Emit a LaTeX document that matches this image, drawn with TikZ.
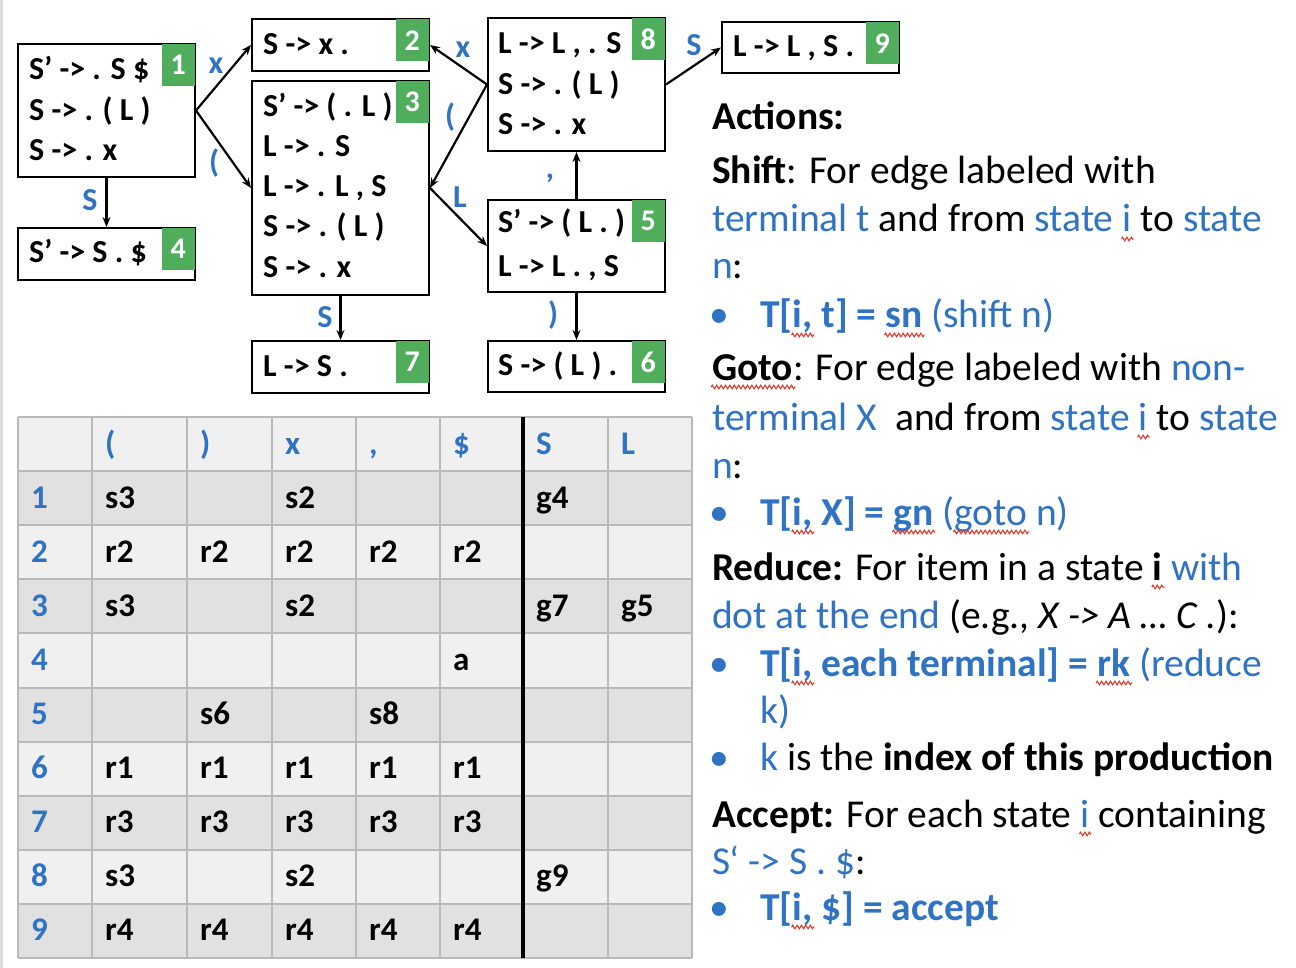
\documentclass[tikz,border=0pt]{standalone}
\usepackage{fontspec}
\setmainfont{Carlito}
\usetikzlibrary{arrows.meta,decorations.pathmorphing}
\definecolor{tblue}{HTML}{2F73C2}
\definecolor{tgreen}{HTML}{4FAD5B}
\definecolor{rowA}{HTML}{F0F0F0}
\definecolor{rowB}{HTML}{E1E1E1}
\definecolor{gridc}{HTML}{B9B9B9}
\definecolor{squig}{HTML}{E03C31}
\definecolor{edgegray}{HTML}{DCDCDC}
\newcommand{\sq}[1]{\tikz[baseline=(q.base)]{\node[inner sep=0pt,outer sep=0pt,anchor=base](q){#1};\draw[overlay,squig,line width=1.1pt,decorate,decoration={zigzag,amplitude=1.8pt,segment length=4.4pt}]([yshift=-7pt,xshift=-1pt]q.base west)--([yshift=-7pt,xshift=2pt]q.base east);}}
\newcommand{\B}{\color{tblue}}
\tikzset{
  statebox/.style={draw=black, line width=2pt, fill=white, inner sep=0pt, minimum width=177pt},
  tag/.style={fill=tgreen, text=white, inner sep=0pt, minimum width=33pt, minimum height=42pt, anchor=north east, font=\fontsize{30}{30}\selectfont\bfseries},
  item/.style={anchor=base west, inner sep=0pt, font=\fontsize{32}{32}\selectfont\bfseries},
  elabel/.style={inner sep=0pt, text=tblue, font=\fontsize{32}{32}\selectfont\bfseries},
  conn/.style={line width=2.2pt, -{Stealth[length=10pt,width=8pt]}},
  ln/.style={anchor=base west, inner sep=0pt, font=\fontsize{39.5}{40}\selectfont},
  cellt/.style={anchor=base west, inner sep=0pt, font=\fontsize{33}{33}\selectfont\bfseries},
}
\begin{document}
\begin{tikzpicture}[x=1pt,y=-1pt]
\useasboundingbox (0,0) rectangle (1296,968);
\fill[edgegray] (0,0) rectangle (3,968);

% ---------- states ----------
\node[statebox, minimum height=133pt] (s1) at (106.5,110.5) {};
\node[statebox, minimum height=52pt] (s4) at (106.5,254) {};
\node[statebox, minimum height=52pt] (s2) at (340.5,45) {};
\node[statebox, minimum height=214pt] (s3) at (340.5,188) {};
\node[statebox, minimum height=52pt] (s7) at (340.5,367) {};
\node[statebox, minimum height=133pt] (s8) at (576.5,84.5) {};
\node[statebox, minimum height=51pt] (s9) at (810.5,47.5) {};
\node[statebox, minimum height=92pt] (s5) at (576.5,246) {};
\node[statebox, minimum height=51pt] (s6) at (576.5,366.5) {};

\foreach \s/\n in {s1/1,s2/2,s3/3,s4/4,s5/5,s6/6,s7/7,s8/8,s9/9}
  \node[tag] (t\n) at ([xshift=-1pt,yshift=-1pt]\s.north east) {\n};

% items
\node[item] (i11) at (29,80) {S’ -> . S \$};
\node[item] (i12) at (29,121) {S -> . ( L )};
\node[item] (i13) at (29,161) {S -> . x};
\node[item] (i41) at (29,263) {S’ -> S . \$};
\node[item] (i21) at (263,55) {S -> x .};
\node[item] (i31) at (263,117) {S’ -> ( . L )};
\node[item] (i32) at (263,157) {L -> . S};
\node[item] (i33) at (263,197) {L -> . L , S};
\node[item] (i34) at (263,237) {S -> . ( L )};
\node[item] (i35) at (263,278) {S -> . x};
\node[item] (i71) at (263,377) {L -> S .};
\node[item] (i81) at (498,54) {L -> L , . S};
\node[item] (i82) at (498,95) {S -> . ( L )};
\node[item] (i83) at (498,135) {S -> . x};
\node[item] (i91) at (733,57) {L -> L , S .};
\node[item] (i51) at (498,233) {S’ -> ( L . )};
\node[item] (i52) at (498,277) {L -> L . , S};
\node[item] (i61) at (498,375) {S -> ( L ) .};

% connectors
\draw[conn] (s1.east) -- (s2.west);
\draw[conn] (s1.east) -- (s3.west);
\draw[conn] (s1.south) -- (s4.north);
\draw[conn] (s3.south) -- (s7.north);
\draw[conn] (s8.west) -- (s2.east);
\draw[conn] (s8.west) -- (s3.east);
\draw[conn] (s3.east) -- (s5.west);
\draw[conn] (s5.north) -- (s8.south);
\draw[conn] (s5.south) -- (s6.north);
\draw[conn] (s8.east) -- (s9.west);

% edge labels
\node[elabel] (e12) at (216,66) {x};
\node[elabel] (e13) at (214,163) {(};
\node[elabel] (e14) at (90,200) {S};
\node[elabel] (e37) at (325,317) {S};
\node[elabel] (e82) at (463,50) {x};
\node[elabel] (e83) at (450,117) {(};
\node[elabel] (e35) at (460,197) {L};
\node[elabel] (e58) at (550,178) {,};
\node[elabel] (e56) at (553,315) {)};
\node[elabel] (e89) at (694,45) {S};

% ---------- table ----------
\foreach \r in {0,...,9}{
  \pgfmathsetmacro{\ya}{417+54.1*\r}
  \pgfmathsetmacro{\yb}{417+54.1*(\r+1)}
  \pgfmathtruncatemacro{\odd}{mod(\r,2)}
  \ifnum\odd=1 \fill[rowB] (18,\ya) rectangle (692,\yb); \else \fill[rowA] (18,\ya) rectangle (692,\yb); \fi
}
\foreach \r in {0,...,10}{
  \pgfmathsetmacro{\ya}{417+54.1*\r}
  \draw[gridc, line width=2pt] (18,\ya) -- (692,\ya);
}
\foreach \cx in {18,92,187,272,356,440,608,692}
  \draw[gridc, line width=2pt] (\cx,417) -- (\cx,958);
\draw[black, line width=4pt] (523,417) -- (523,958);

\foreach \c/\t in {1/(,2/),3/x,4/{,},5/\$,6/S,7/L}{
  \pgfmathsetmacro{\xx}{{31,105,200,285,369,453,536,621}[\c]}
  \node[cellt, text=tblue] (h\c) at (\xx,454) {\t};
}
\foreach \r in {1,...,9}{
  \pgfmathsetmacro{\yy}{454+54.1*\r}
  \node[cellt, text=tblue] (r\r) at (31,\yy) {\r};
}
\foreach \r/\c/\t in {1/1/s3,1/3/s2,1/6/g4,
  2/1/r2,2/2/r2,2/3/r2,2/4/r2,2/5/r2,
  3/1/s3,3/3/s2,3/6/g7,3/7/g5,
  4/5/a,
  5/2/s6,5/4/s8,
  6/1/r1,6/2/r1,6/3/r1,6/4/r1,6/5/r1,
  7/1/r3,7/2/r3,7/3/r3,7/4/r3,7/5/r3,
  8/1/s3,8/3/s2,8/6/g9,
  9/1/r4,9/2/r4,9/3/r4,9/4/r4,9/5/r4}{
  \pgfmathsetmacro{\xx}{{31,105,200,285,369,453,536,621}[\c]}
  \pgfmathsetmacro{\yy}{454+54.1*\r}
  \node[cellt] (c\r-\c) at (\xx,\yy) {\t};
}

% ---------- text panel ----------
\node[ln] (l1) at (712,130) {\bfseries Actions:};
\node[ln] (l2) at (712,184) {\textbf{Shift}: For edge labeled with};
\node[ln] (l3) at (712,232) {{\B terminal t} and from {\B state \sq{i}} to {\B state}};
\node[ln] (l4) at (712,279) {{\B n}:};
\node[ln, text=tblue] (b1) at (709,328) {•};
\node[ln] (l5) at (760,328) {{\B\bfseries T[\sq{i,} t] = \sq{sn}} {\B (shift n)}};
\node[ln] (l6) at (712,380) {\textbf{\sq{Goto}}: For edge labeled with {\B non-}};
\node[ln] (l7) at (712,430) {{\B terminal X}\ \ and from {\B state \sq{i}} to {\B state}};
\node[ln] (l8) at (712,478) {{\B n}:};
\node[ln, text=tblue] (b2) at (709,525) {•};
\node[ln] (l9) at (760,525) {{\B\bfseries T[\sq{i,} X] = \sq{gn}} {\B (\sq{goto} n)}};
\node[ln] (l10) at (712,580) {\textbf{Reduce:} For item in a state \textbf{\sq{i}} {\B with}};
\node[ln] (l11) at (712,628) {{\B dot at the end} (e.g., \textit{X -> A … C .}):};
\node[ln, text=tblue] (b3) at (709,676) {•};
\node[ln] (l12) at (760,676) {{\B\bfseries T[\sq{i,} each terminal] = \sq{rk}} {\B (reduce}};
\node[ln] (l13) at (760,723) {{\B k)}};
\node[ln, text=tblue] (b4) at (709,770) {•};
\node[ln] (l14) at (760,770) {{\B k} is the \textbf{index of this production}};
\node[ln] (l15) at (712,827) {\textbf{Accept:} For each state {\B\sq{i}} containing};
\node[ln] (l16) at (712,874) {{\B S‘ -> S . \$}:};
\node[ln, text=tblue] (b5) at (709,920) {•};
\node[ln] (l17) at (760,920) {{\B\bfseries T[\sq{i,} \$] = accept}};
\end{tikzpicture}
\end{document}
